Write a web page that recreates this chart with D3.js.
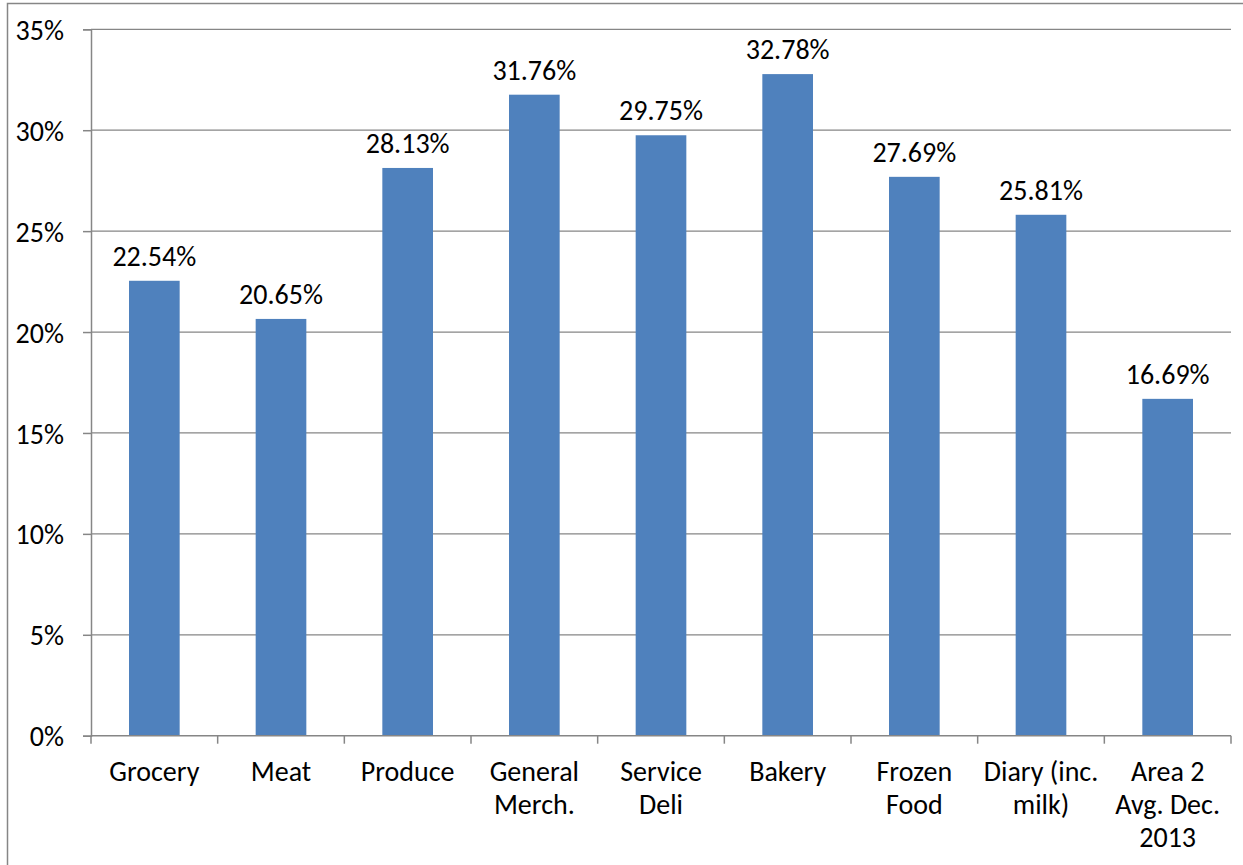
<!DOCTYPE html>
<html>
<head>
<meta charset="utf-8">
<script src="https://d3js.org/d3.v7.min.js"></script>
<style>
  body { margin: 0; background: #fff; }
  text { font-family: Calibri, Carlito, "Open Sans", sans-serif; fill: #000; }
</style>
</head>
<body>
<script>
// chart data
const categories = ["Grocery", "Meat", "Produce", "General Merch.", "Service Deli", "Bakery", "Frozen Food", "Diary (inc. milk)", "Area 2 Avg. Dec. 2013"];
const categoryLines = [["Grocery"], ["Meat"], ["Produce"], ["General", "Merch."], ["Service", "Deli"], ["Bakery"], ["Frozen", "Food"], ["Diary (inc.", "milk)"], ["Area 2", "Avg. Dec.", "2013"]];
const values = [22.54, 20.65, 28.13, 31.76, 29.75, 32.78, 27.69, 25.81, 16.69];
const yTicks = [0, 5, 10, 15, 20, 25, 30, 35];

const width = 1243, height = 865;
const plot = {left: 91, right: 1231, top: 29.3, bottom: 735.7};
const gray = "#868686";
const fs = 28;

let svg = d3.select("body").append("svg")
    .attr("width", width)
    .attr("height", height);

// outer chart border
svg.append("rect")
    .attr("x", 7.5).attr("y", 3.5)
    .attr("width", width).attr("height", height)
    .attr("fill", "none")
    .attr("stroke", gray)
    .attr("stroke-width", 1.5);

let x = d3.scaleBand()
    .domain(categories)
    .range([plot.left, plot.right])
    .paddingInner(0.6)
    .paddingOuter(0.3);

let xBound = d3.scaleLinear()
    .domain([0, categories.length])
    .range([plot.left, plot.right]);

let y = d3.scaleLinear()
    .domain([0, 35])
    .range([plot.bottom, plot.top]);

// gridlines
svg.append("g")
    .selectAll("line")
    .data(yTicks.filter(d => d > 0))
    .join("line")
        .attr("x1", plot.left).attr("x2", plot.right)
        .attr("y1", d => y(d)).attr("y2", d => y(d))
        .attr("stroke", gray)
        .attr("stroke-width", 1.3);

// y axis
let yAxis = svg.append("g")
    .attr("transform", `translate(${plot.left},0)`)
    .call(d3.axisLeft(y).tickValues(yTicks).tickFormat(d => d + "%").tickSize(8).tickPadding(19));
yAxis.select(".domain").attr("stroke", gray).attr("stroke-width", 1.5);
yAxis.selectAll(".tick line").attr("stroke", gray).attr("stroke-width", 1.5);
yAxis.selectAll(".tick text").attr("font-size", fs).attr("font-family", null).attr("dy", "0.36em");

// bars
svg.append("g")
    .selectAll("rect")
    .data(values)
    .join("rect")
        .attr("x", (d, i) => x(categories[i]))
        .attr("y", d => y(d))
        .attr("width", x.bandwidth())
        .attr("height", d => y(0) - y(d))
        .attr("fill", "#4F81BD");

// value labels
svg.append("g")
    .selectAll("text")
    .data(values)
    .join("text")
        .attr("x", (d, i) => x(categories[i]) + x.bandwidth() / 2)
        .attr("y", d => y(d) - 15)
        .attr("text-anchor", "middle")
        .attr("font-size", fs)
        .text(d => d.toFixed(2) + "%");

// x axis line and ticks at category boundaries
svg.append("line")
    .attr("x1", plot.left).attr("x2", plot.right)
    .attr("y1", y(0)).attr("y2", y(0))
    .attr("stroke", gray).attr("stroke-width", 1.5);
svg.append("g")
    .selectAll("line")
    .data(d3.range(categories.length + 1))
    .join("line")
        .attr("x1", d => xBound(d)).attr("x2", d => xBound(d))
        .attr("y1", y(0)).attr("y2", y(0) + 8)
        .attr("stroke", gray).attr("stroke-width", 1.5);

// category labels
let catText = svg.append("g")
    .selectAll("text")
    .data(categoryLines)
    .join("text")
        .attr("text-anchor", "middle")
        .attr("font-size", fs)
        .attr("transform", (d, i) => `translate(${x(categories[i]) + x.bandwidth() / 2},${y(0) + 45})`);
catText.selectAll("tspan")
    .data(d => d)
    .join("tspan")
        .attr("x", 0)
        .attr("y", (d, i) => i * 33)
        .text(d => d);
</script>
</body>
</html>
